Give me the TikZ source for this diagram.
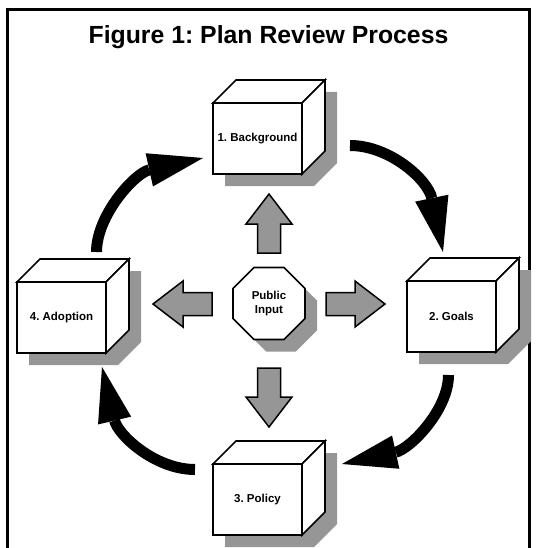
\documentclass[tikz,border=0pt]{standalone}
\usepackage{fontspec}
\setmainfont{Liberation Sans}
\usetikzlibrary{arrows.meta,shapes.geometric,calc}
\definecolor{shadowgray}{HTML}{969696}
\definecolor{arrowgray}{HTML}{969696}
\frenchspacing
\tikzset{
  cubeline/.style={draw=black, fill=white, line width=1.6pt, line join=miter},
  cubelabel/.style={draw=black, fill=white, line width=1.6pt,
    minimum width=89pt, minimum height=71pt, inner sep=0pt,
    font=\fontsize{11.5}{13.5}\selectfont\bfseries},
  shadowfill/.style={fill=shadowgray, draw=none},
  blockarrow/.style={draw=black, fill=arrowgray, line width=1.5pt, line join=miter},
  cyclearrow/.style={draw=black, line width=11pt,
    -{Triangle[width=34pt,length=55pt,line width=0pt]}},
  octo/.style={regular polygon, regular polygon sides=8, minimum size=78pt,
    inner sep=0pt, align=center, font=\fontsize{11.5}{13.5}\selectfont\bfseries},
  titlefont/.style={font=\fontsize{24.8}{28}\selectfont\bfseries}
}
\newcommand\mycube[3]{%
  \begin{scope}[shift={(#2)}]
    \fill[shadowfill] (-32.5,47.5) -- (-32.5,-23.5) -- (-9.5,-46.5) -- (79.5,-46.5)
      -- (79.5,24.5) -- (56.5,47.5) -- cycle;
    \draw[cubeline] (-44.5,-35.5) -- (-21.5,-58.5) -- (67.5,-58.5) -- (44.5,-35.5) -- cycle;
    \draw[cubeline] (44.5,-35.5) -- (67.5,-58.5) -- (67.5,12.5) -- (44.5,35.5) -- cycle;
    \node[cubelabel] (#1) at (0,0) {#3};
  \end{scope}}
\newcommand\blockarr[2]{%
  \draw[blockarrow, shift={(#1)}, rotate=#2] (0,-11.5) -- (29,-11.5) -- (29,-23)
    -- (59,0) -- (29,23) -- (29,11.5) -- (0,11.5) -- cycle;}
\begin{document}
\begin{tikzpicture}[x=1pt,y=-1pt]
  \useasboundingbox (0,0) rectangle (537,548);
  % frame
  \draw[line width=3pt] (7.5,548) -- (7.5,9.5) -- (529.5,9.5) -- (529.5,548);
  % title
  \node[titlefont, anchor=base] (title) at (268.5,43.5) {Figure 1: Plan Review Process};
  % cubes
  \mycube{B}{257.5,138.5}{1. Background}
  \mycube{G}{451.5,316.5}{2. Goals}
  \mycube{P}{257.5,499.5}{3. Policy}
  \mycube{A}{61.5,317.5}{4. Adoption}
  % octagon
  \node[octo, shadowfill] (PIsh) at (281,315.5) {};
  \node[octo, draw=black, fill=white, line width=1.6pt] (PI) at (269,303.5) {Public\\Input};
  % block arrows
  \blockarr{269,253}{90}
  \blockarr{269,368}{-90}
  \blockarr{326,304}{0}
  \blockarr{212,304}{180}
  % curved cycle arrows
  \coordinate (a1s) at (350,145.5);
  \coordinate (a1e) at (443,252);
  \coordinate (a2s) at (448.5,375);
  \coordinate (a2e) at (342,464);
  \coordinate (a3s) at (195,469.5);
  \coordinate (a3e) at (102,367);
  \coordinate (a4s) at (96.5,252);
  \coordinate (a4e) at (203,158);
  \draw[cyclearrow] (a1s) .. controls +(40,0) and +(-15,-72) .. (a1e);
  \draw[cyclearrow] (a2s) .. controls +(0,35) and +(68,-15) .. (a2e);
  \draw[cyclearrow] (a3s) .. controls +(-40,0) and +(16,68) .. (a3e);
  \draw[cyclearrow] (a4s) .. controls +(0,-37) and +(-68,15) .. (a4e);
\end{tikzpicture}
\end{document}
